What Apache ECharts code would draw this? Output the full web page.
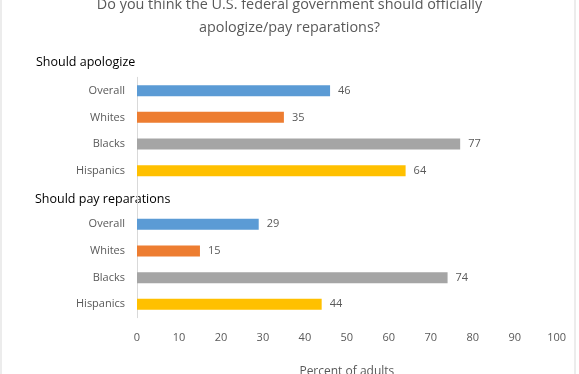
<!DOCTYPE html>
<html><head><meta charset="utf-8">
<script src="https://cdn.jsdelivr.net/npm/echarts@6/dist/echarts.min.js"></script>
<style>html,body{margin:0;padding:0;background:#fff}#c{width:579px;height:374px}</style>
</head><body><div id="c"></div>
<script>
var titleLines = ['Do you think the U.S. federal government should officially', 'apologize/pay reparations?'];
var groups = ['Should apologize', 'Should pay reparations'];
var subgroups = ['Overall', 'Whites', 'Blacks', 'Hispanics'];
var apologize = [46, 35, 77, 64];
var reparations = [29, 15, 74, 44];
var xTicks = [0, 10, 20, 30, 40, 50, 60, 70, 80, 90, 100];
var xTitle = 'Percent of adults';
var colors = ['#5B9BD5', '#ED7D31', '#A5A5A5', '#FFC000'];

var cats = [], data = [];
[apologize, reparations].forEach(function (vals, gi) {
  if (gi > 0) { cats.push('gap' + gi); data.push('-'); }
  vals.forEach(function (v, i) {
    cats.push(gi + '|' + subgroups[i]);
    data.push({ value: v, itemStyle: { color: colors[i] } });
  });
});

var font = 'Open Sans';
var chart = echarts.init(document.getElementById('c'));
chart.setOption({
  animation: false,
  textStyle: { fontFamily: font },
  title: {
    text: titleLines.join('\n'), left: 'center', top: -7, padding: 0,
    textStyle: { fontFamily: font, fontSize: 14.4, fontWeight: 'normal', color: '#595959', lineHeight: 23 }
  },
  graphic: [
    { type: 'rect', shape: { x: 1, y: -10, width: 574, height: 400 }, style: { fill: 'none', stroke: '#D9D9D9', lineWidth: 1 }, silent: true },
    { type: 'text', left: 36, top: 56, style: { text: groups[0], font: '12.5px "Open Sans"', fill: '#000' } },
    { type: 'text', left: 35, top: 192.5, style: { text: groups[1], font: '12.5px "Open Sans"', fill: '#000' } }
  ],
  grid: { left: 137, right: 22.3, top: 77.3, bottom: 56.3, containLabel: false, outerBoundsMode: 'none' },
  xAxis: {
    type: 'value', min: 0, max: 100, interval: 10,
    name: xTitle, nameLocation: 'middle', nameGap: 48,
    nameTextStyle: { fontFamily: font, fontSize: 12, color: '#595959' },
    axisLine: { show: false }, axisTick: { show: false }, splitLine: { show: false },
    axisLabel: { fontFamily: font, fontSize: 11, color: '#595959', margin: 15 }
  },
  yAxis: {
    type: 'category', inverse: true, data: cats,
    axisLine: { show: true, lineStyle: { color: '#D9D9D9', width: 1 } },
    axisTick: { show: false },
    axisLabel: {
      fontFamily: font, fontSize: 11, color: '#595959', margin: 12,
      formatter: function (v) { return v.indexOf('|') >= 0 ? v.split('|')[1] : ''; }
    }
  },
  series: [{
    type: 'bar', data: data, barWidth: 11,
    label: { show: true, position: 'right', distance: 8, fontFamily: font, fontSize: 11, color: '#595959' }
  }]
});
</script></body></html>
